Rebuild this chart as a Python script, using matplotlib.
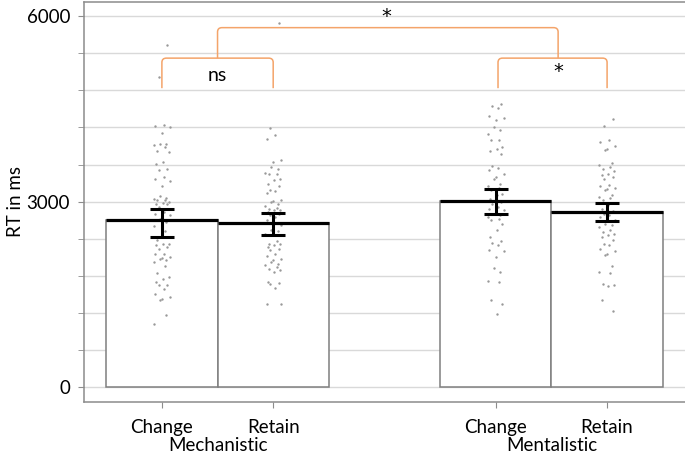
import matplotlib.pyplot as plt
from matplotlib.path import Path
from matplotlib.patches import PathPatch
import numpy as np

plt.rcParams['font.family'] = ['Lato', 'DejaVu Sans']

# bar data (means and error bar limits)
conditions = ["Change", "Retain", "Change", "Retain"]
groups = ["Mechanistic", "Mentalistic"]
means = [2700, 2655, 3015, 2835]
err_low = [2430, 2465, 2800, 2685]
err_high = [2880, 2810, 3205, 2975]

# single trial RTs per condition
mech_change = [5530, 5015, 4237, 4221, 4209, 4119, 3941, 3929, 3924, 3886, 3816, 3805,
               3643, 3617, 3536, 3519, 3400, 3374, 3330, 3249, 3087, 3066, 3050, 3034,
               3023, 2995, 2979, 2969, 2958, 2914, 2833, 2807, 2780, 2752, 2726, 2671,
               2602, 2526, 2375, 2321, 2310, 2294, 2266, 2241, 2160, 2148, 2105, 2095,
               2079, 2063, 2024, 1954, 1846, 1781, 1755, 1700, 1658, 1647, 1582, 1512,
               1457, 1431, 1404, 1161, 1015]
mech_retain = [5890, 4193, 4086, 4021, 3670, 3643, 3562, 3536, 3465, 3455, 3444, 3374,
               3358, 3293, 3249, 3196, 3173, 3141, 3034, 3011, 2995, 2969, 2925, 2904,
               2888, 2872, 2861, 2833, 2807, 2780, 2752, 2699, 2618, 2564, 2548, 2526,
               2483, 2364, 2321, 2310, 2294, 2266, 2241, 2213, 2160, 2116, 2079, 2063,
               2024, 1998, 1970, 1943, 1917, 1889, 1862, 1700, 1684, 1663, 1609, 1350,
               1339]
ment_change = [4577, 4544, 4523, 4383, 4361, 4329, 4209, 4156, 4102, 4005, 3994, 3886,
               3859, 3821, 3767, 3573, 3552, 3508, 3455, 3400, 3374, 3282, 3249, 3228,
               3185, 3131, 3104, 3050, 2995, 2969, 2914, 2888, 2861, 2833, 2807, 2780,
               2752, 2726, 2699, 2634, 2537, 2429, 2364, 2331, 2294, 2213, 2202, 2105,
               1933, 1862, 1716, 1700, 1415, 1339, 1188]
ment_retain = [4345, 4221, 4005, 3967, 3897, 3859, 3832, 3627, 3589, 3562, 3536, 3497,
               3455, 3427, 3400, 3374, 3266, 3249, 3228, 3212, 3185, 3104, 3076, 3066,
               3023, 2979, 2942, 2888, 2849, 2807, 2780, 2752, 2710, 2688, 2645, 2618,
               2591, 2548, 2510, 2483, 2456, 2429, 2375, 2321, 2294, 2241, 2202, 2160,
               2132, 1954, 1862, 1846, 1663, 1647, 1630, 1404, 1226]
trials = [mech_change, mech_retain, ment_change, ment_retain]

positions = [1, 2, 4, 5]
jitter = [0.05, -0.03, 0.02, -0.06, 0.07, 0.0, -0.02, 0.04, -0.07, 0.03, -0.04, 0.06, 0.01, -0.05]

fig = plt.figure(figsize=(6.85, 4.53), dpi=100)
ax = fig.add_axes([0.1226, 0.1126, 0.8774, 0.883])

grey = '#8c8c8c'
# grid
for y in np.arange(0, 6001, 600):
    ax.axhline(y, color='#d9d9d9', lw=1, zorder=0)

ax.bar(positions, means, width=1.0, color='white', edgecolor='#7f7f7f', lw=1.1, zorder=1)
ax.hlines(means, [p - 0.5 for p in positions], [p + 0.5 for p in positions],
          color='black', lw=2.3, zorder=3)

for p, vals in zip(positions, trials):
    xs = [p + jitter[i % len(jitter)] for i in range(len(vals))]
    ax.scatter(xs, vals, s=3, color='#999999', zorder=2, linewidths=0)

m = np.array(means)
yerr = [m - np.array(err_low), np.array(err_high) - m]
ax.errorbar(positions, means, yerr=yerr, fmt='none', ecolor='black', elinewidth=2.2,
            capsize=8.5, capthick=2.2, zorder=4)


def bracket(x1, x2, ytop, ybot, rx=0.04, ry=70):
    verts = [(x1, ybot), (x1, ytop - ry), (x1, ytop), (x1 + rx, ytop),
             (x2 - rx, ytop), (x2, ytop), (x2, ytop - ry), (x2, ybot)]
    codes = [Path.MOVETO, Path.LINETO, Path.CURVE3, Path.CURVE3,
             Path.LINETO, Path.CURVE3, Path.CURVE3, Path.LINETO]
    ax.add_patch(PathPatch(Path(verts, codes), fill=False, edgecolor='#F4A46A',
                           lw=1.1, zorder=5, clip_on=False))


bracket(1.0, 2.0, 5322, 4836)
bracket(4.02, 5.0, 5322, 4836)
bracket(1.5, 4.56, 5815, 5322)
ax.text(1.5, 5046, "ns", ha='center', va='center', fontsize=14)
ax.text(4.56, 5110, "*", ha='center', va='center', fontsize=14, family='DejaVu Sans')
ax.text(3.02, 6000, "*", ha='center', va='center', fontsize=14, family='DejaVu Sans')

ax.set_xlim(0.30, 5.70)
ax.set_ylim(-240, 6230)
ax.set_yticks([0, 3000, 6000])
ax.set_yticks(np.arange(0, 6001, 600), minor=True)
ax.tick_params(axis='y', which='both', length=4, color=grey, labelsize=13.5, pad=6)
ax.set_ylabel("RT in ms", fontsize=13.5)
ax.yaxis.set_label_coords(-0.100, 0.5)

ax.set_xticks(positions)
ax.set_xticklabels(conditions, fontsize=13.5)
ax.tick_params(axis='x', length=4, color=grey, pad=8)
for gx, g in zip([1.5, 4.5], groups):
    ax.text(gx, -0.108, g, transform=ax.get_xaxis_transform(), ha='center', va='center',
            fontsize=13.5)

for s in ['left', 'top', 'bottom']:
    ax.spines[s].set_color(grey)
    ax.spines[s].set_linewidth(1.1)
ax.spines['right'].set_visible(False)

fig.savefig("out.png", dpi=100)
